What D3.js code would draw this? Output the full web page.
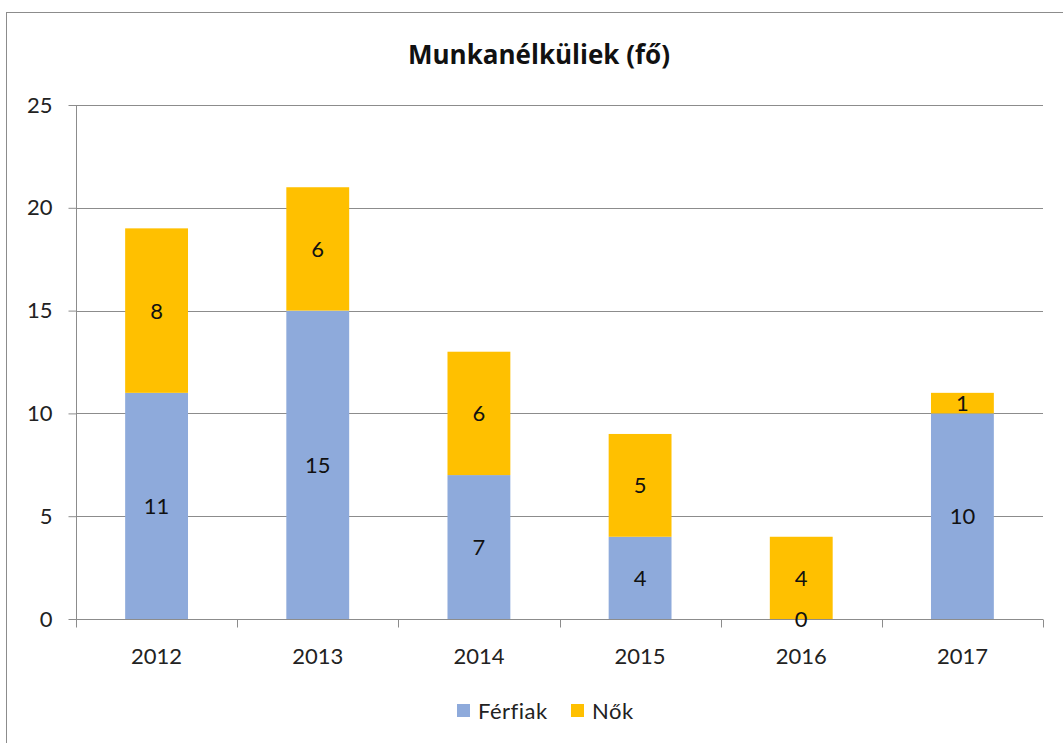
<!DOCTYPE html>
<html>
<meta charset="utf-8">
<style>
    body { margin: 0; background: #fff; }
    text { font-family: Lato, "Open Sans", sans-serif; fill: #222; font-variant-ligatures: none; font-feature-settings: "liga" 0; }
    .grid line { stroke: #8c8c8c; stroke-width: 1px; }
    .axis path, .axis line { stroke: #8c8c8c; }
</style>
<body>
<script src="https://d3js.org/d3.v7.min.js"></script>
<script>

    var years = ["2012", "2013", "2014", "2015", "2016", "2017"];
    var ferfiak = [11, 15, 7, 4, 0, 10];
    var nok = [8, 6, 6, 5, 4, 1];
    var seriesNames = ["Férfiak", "Nők"];
    var colors = ["#8eaadb", "#ffc000"];
    var yTicks = [0, 5, 10, 15, 20, 25];

    var width = 1063,
        height = 743;

    var x0 = 76, x1 = 1043, yTop = 105, yBot = 619;

    var svg = d3.select("body").append("svg")
        .attr("width", width)
        .attr("height", height);

    // chart frame
    svg.append("rect")
        .attr("x", 6.5).attr("y", 12.5)
        .attr("width", width + 10).attr("height", height + 10)
        .attr("fill", "none")
        .attr("stroke", "#8c8c8c");

    var x = d3.scaleBand()
        .domain(years)
        .range([x0, x1])
        .paddingInner(0.61)
        .paddingOuter(0.305);

    var xTicks = d3.scaleBand().domain(years).range([x0, x1]);

    var y = d3.scaleLinear()
        .domain([0, 25])
        .range([yBot, yTop]);

    // gridlines
    svg.append("g")
        .attr("class", "grid")
        .selectAll("line")
        .data(yTicks.slice(1))
        .enter().append("line")
        .attr("x1", x0).attr("x2", x1)
        .attr("y1", function (d) { return Math.round(y(d)) + 0.5; })
        .attr("y2", function (d) { return Math.round(y(d)) + 0.5; });

    var rows = years.map(function (yr, i) {
        return { year: yr, "Férfiak": ferfiak[i], "Nők": nok[i] };
    });
    var stacked = d3.stack().keys(seriesNames)(rows);

    var layers = svg.selectAll(".layer")
        .data(stacked)
        .enter().append("g")
        .attr("fill", function (d, i) { return colors[i]; });

    layers.selectAll("rect")
        .data(function (d) { return d; })
        .enter().append("rect")
        .attr("x", function (d) { return x(d.data.year); })
        .attr("width", x.bandwidth())
        .attr("y", function (d) { return y(d[1]); })
        .attr("height", function (d) { return y(d[0]) - y(d[1]); });

    // y axis
    var yAxis = svg.append("g")
        .attr("class", "axis")
        .attr("transform", "translate(" + (x0 + 0.5) + ",0)")
        .call(d3.axisLeft(y).tickValues(yTicks).tickSize(8).tickSizeOuter(0).tickPadding(16));
    yAxis.select(".domain").remove();
    yAxis.append("line").attr("y1", yTop).attr("y2", yBot).attr("stroke", "#8c8c8c");
    yAxis.selectAll("text").style("font-size", "22px").attr("fill", "#222");

    // x axis
    var xAxisG = svg.append("g")
        .attr("class", "axis")
        .attr("transform", "translate(0," + (yBot + 0.5) + ")");
    xAxisG.append("line")
        .attr("x1", x0).attr("x2", x1)
        .attr("stroke", "#8c8c8c");
    xAxisG.selectAll(".tk")
        .data(years.concat(["end"]))
        .enter().append("line")
        .attr("x1", function (d, i) { return Math.round(x0 + i * xTicks.bandwidth()) + 0.5; })
        .attr("x2", function (d, i) { return Math.round(x0 + i * xTicks.bandwidth()) + 0.5; })
        .attr("y1", 0).attr("y2", 8)
        .attr("stroke", "#8c8c8c");
    xAxisG.selectAll("text")
        .data(years)
        .enter().append("text")
        .attr("x", function (d) { return x(d) + x.bandwidth() / 2; })
        .attr("y", 44)
        .attr("text-anchor", "middle")
        .style("font-size", "22px")
        .text(function (d) { return d; });

    // data labels (drawn after axes so the zero sits on top)
    var labelG = svg.append("g");
    stacked.forEach(function (layer) {
        labelG.selectAll(null)
            .data(layer)
            .enter().append("text")
            .attr("x", function (d) { return x(d.data.year) + x.bandwidth() / 2; })
            .attr("y", function (d) { return (y(d[0]) + y(d[1])) / 2; })
            .attr("dy", "0.36em")
            .attr("text-anchor", "middle")
            .style("font-size", "22px")
            .style("fill", "#111")
            .text(function (d) { return d[1] - d[0]; });
    });

    // title
    svg.append("text")
        .attr("x", 539)
        .attr("y", 64)
        .attr("text-anchor", "middle")
        .style("font-family", "'Open Sans', sans-serif")
        .style("font-size", "26px")
        .style("font-weight", "bold")
        .style("fill", "#111")
        .text("Munkanélküliek (fő)");

    // legend
    var legendX = [457, 571];
    var legend = svg.selectAll(".legend")
        .data(seriesNames)
        .enter().append("g")
        .attr("transform", function (d, i) { return "translate(" + legendX[i] + ",704)"; });
    legend.append("rect")
        .attr("width", 13).attr("height", 13)
        .attr("fill", function (d, i) { return colors[i]; });
    legend.append("text")
        .attr("x", 21).attr("y", 7)
        .attr("dy", "0.36em")
        .style("font-size", "22px")
        .style("letter-spacing", "0.5px")
        .text(function (d) { return d; });

</script>
</body>
</html>
